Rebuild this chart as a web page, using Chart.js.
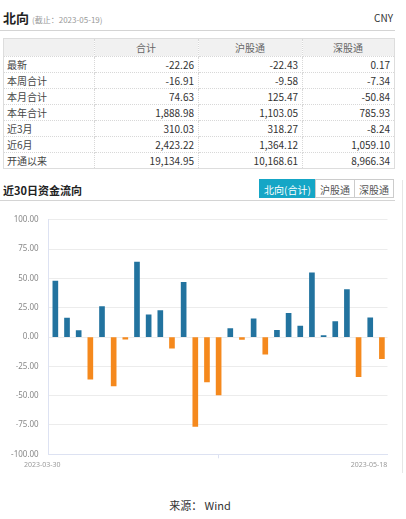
<!DOCTYPE html>
<html><head><meta charset="utf-8">
<script src="https://cdn.jsdelivr.net/npm/chart.js@4/dist/chart.umd.min.js"></script>
<style>
html,body{margin:0;padding:0;background:#fff;width:406px;height:519px;overflow:hidden;font-family:"Noto Sans CJK SC","Noto Sans",sans-serif;color:#333;}
.abs{position:absolute;}
#title{left:3px;top:10px;font-size:13px;font-weight:bold;line-height:16px;color:#222;}
#title span{font-size:8px;font-weight:normal;color:#999;margin-left:3px;}
#cny{right:13px;top:11px;font-size:10px;line-height:14px;color:#333;}
#hr1{left:0;top:30px;width:395px;height:0;border-top:1px solid #d4d4d4;}
table{position:absolute;left:3px;top:38px;width:391px;border-collapse:collapse;table-layout:fixed;font-size:10px;border:1px solid #ddd;}
td,th{border:1px dotted #d8d8d8;padding:0 4px 0 3px;white-space:nowrap;overflow:hidden;line-height:14px;}
th{height:17px;background:#f1f1f1;font-weight:normal;color:#666;text-align:center;}
td{height:15px;text-align:right;color:#333;}
td.lab{text-align:left;color:#444;}
#sub{left:3px;top:182px;font-size:11px;font-weight:bold;line-height:16px;color:#222;}
.btn{top:179px;height:19px;line-height:19px;font-size:10px;text-align:center;border:1px solid #ccc;box-sizing:border-box;color:#555;background:#fff;}
#hr2{left:0;top:200px;width:395px;height:0;border-top:1px solid #d4d4d4;}
#vr{left:402px;top:180px;width:0;height:293px;border-left:1px solid #e6e6e6;}
#chartbox{left:0;top:205px;width:406px;height:275px;}
#src{left:0;top:497px;width:400px;text-align:center;font-size:11px;line-height:16px;color:#333;}
</style></head>
<body>
<div id="title" class="abs">北向<span>(截止：2023-05-19)</span></div>
<div id="cny" class="abs">CNY</div>
<div id="hr1" class="abs"></div>
<table id="tbl"><colgroup><col style="width:91px"><col style="width:104px"><col style="width:104px"><col style="width:92px"></colgroup><thead></thead><tbody></tbody></table>
<div id="sub" class="abs">近30日资金流向</div>
<div class="abs btn" style="left:259px;width:57px;background:#15a6c6;border-color:#15a6c6;color:#fff;">北向(合计)</div>
<div class="abs btn" style="left:315px;width:40px;">沪股通</div>
<div class="abs btn" style="left:354px;width:40px;">深股通</div>
<div id="hr2" class="abs"></div>
<div id="vr" class="abs"></div>
<div id="chartbox" class="abs"><canvas id="c" width="406" height="275"></canvas></div>
<div id="src" class="abs">来源： Wind</div>
<script>
// ---- table data ----
const tableColumns = ["合计", "沪股通", "深股通"];
const tableRows = ["最新", "本周合计", "本月合计", "本年合计", "近3月", "近6月", "开通以来"];
const totalValues = ["-22.26", "-16.91", "74.63", "1,888.98", "310.03", "2,423.22", "19,134.95"];
const shValues = ["-22.43", "-9.58", "125.47", "1,103.05", "318.27", "1,364.12", "10,168.61"];
const szValues = ["0.17", "-7.34", "-50.84", "785.93", "-8.24", "1,059.10", "8,966.34"];

// ---- chart data ----
const dates = ["2023-03-30","2023-03-31","2023-04-03","2023-04-04","2023-04-11","2023-04-12","2023-04-13","2023-04-14","2023-04-17","2023-04-18","2023-04-19","2023-04-20","2023-04-21","2023-04-24","2023-04-25","2023-04-26","2023-04-27","2023-04-28","2023-05-04","2023-05-05","2023-05-08","2023-05-09","2023-05-10","2023-05-11","2023-05-12","2023-05-15","2023-05-16","2023-05-17","2023-05-18"];
const netFlow = [47.8, 16.2, 5.6, -36.0, 26.0, -41.6, -1.8, 64.0, 19.0, 22.5, -9.5, 46.7, -76.3, -38.2, -49.3, 7.2, -2.0, 15.6, -14.5, 5.8, 20.2, 9.4, 54.8, 1.2, 13.3, 40.5, -33.8, 16.4, -18.5];
const yTicks = [100, 75, 50, 25, 0, -25, -50, -75, -100];

// build table
const thead = document.querySelector('#tbl thead');
const tbody = document.querySelector('#tbl tbody');
let h = '<tr><th></th>' + tableColumns.map(c => '<th>' + c + '</th>').join('') + '</tr>';
thead.innerHTML = h;
let b = '';
tableRows.forEach((r, i) => {
  b += '<tr><td class="lab">' + r + '</td><td>' + totalValues[i] + '</td><td>' + shValues[i] + '</td><td>' + szValues[i] + '</td></tr>';
});
tbody.innerHTML = b;

const BLUE = '#22739f', ORANGE = '#f5891d';
const AXIS = '#dde2f2';
new Chart(document.getElementById('c'), {
  type: 'bar',
  data: {
    datasets: [{
      data: netFlow.map((v, i) => ({x: i, y: v})),
      backgroundColor: ctx => (ctx.raw && ctx.raw.y < 0) ? ORANGE : BLUE,
      barThickness: 5,
      borderWidth: 0
    }]
  },
  options: {
    responsive: false,
    animation: false,
    events: [],
    layout: {padding: {top: 11, right: 18.5, left: 0, bottom: 0}},
    plugins: {legend: {display: false}, tooltip: {enabled: false}},
    scales: {
      x: {
        type: 'linear',
        min: -0.57,
        max: 28.48,
        offset: false,
        afterBuildTicks: s => { s.ticks = [{value: 0}, {value: dates.length - 1}]; },
        afterFit: s => { s.height = 25.7; },
        grid: {display: true, drawOnChartArea: false, drawTicks: true, tickLength: 4, color: AXIS},
        border: {display: true, color: AXIS},
        ticks: {
          autoSkip: false, maxRotation: 0, padding: 2, labelOffset: -13,
          font: {family: '"Noto Sans", sans-serif', size: 7}, color: '#999',
          callback: v => dates[v]
        }
      },
      y: {
        min: -100, max: 100,
        afterBuildTicks: s => { s.ticks = yTicks.map(v => ({value: v})); },
        afterFit: s => { s.width = 48.7; },
        grid: {color: '#ececec', drawTicks: false, lineWidth: 1},
        border: {display: true, color: AXIS},
        ticks: {
          padding: 10,
          font: {family: '"Noto Sans", sans-serif', size: 8}, color: '#888',
          callback: v => Number(v).toFixed(2)
        }
      }
    }
  }
});
</script>
</body></html>
